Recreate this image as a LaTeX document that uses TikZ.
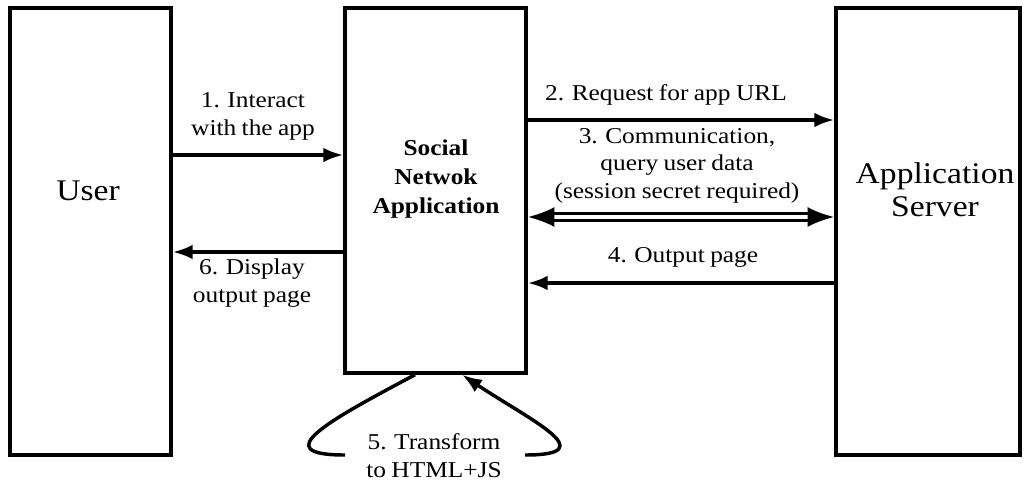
\documentclass[tikz,border=0pt]{standalone}
\usepackage{fontspec}
\setmainfont{Liberation Serif}[FakeStretch=1.12,WordSpace=0.85]
\usetikzlibrary{arrows.meta,positioning}
\tikzset{
  >={Latex[length=15pt,width=11pt]},
  blk/.style={draw,line width=2.6pt,inner sep=0pt},
  lab/.style={font=\fontsize{17}{20.5}\selectfont,align=center,anchor=base,inner sep=0pt},
  big/.style={lab,font=\fontsize{22.5}{24.75}\selectfont},
  arr/.style={->,line width=2.6pt},
  darr/.style={{Latex[length=20pt,width=15pt]}-{Latex[length=20pt,width=15pt]},line width=2.2pt,double,double distance=3.4pt},
}
\begin{document}
\begin{tikzpicture}[x=0.75pt,y=-0.75pt]
\useasboundingbox (0,0) rectangle (1025,483);
% the three parties
\node[blk,minimum width=120.75pt,minimum height=335.25pt] (user) at (90.5,231.5) {};
\node[blk,minimum width=135.75pt,minimum height=273.75pt] (sna) at (435.5,190.5) {};
\node[blk,minimum width=138pt,minimum height=335.25pt] (srv) at (928,231.5) {};
\node[big] (userT) at (88,200) {User};
\node[lab,font=\fontsize{17}{21.4}\selectfont\bfseries] (snaT) at (436,213) {Social\\Netwok\\Application};
\node[big] (srvT) at (935,216) {Application\\Server};
% message levels
\coordinate (y1) at (0,155);
\coordinate (y2) at (0,120);
\coordinate (y3) at (0,217);
\coordinate (y4) at (0,283);
\coordinate (y6) at (0,252);
\draw[arr] (user.east |- y1) -- (sna.west |- y1);
\draw[arr] (sna.east |- y2) -- (srv.west |- y2);
\draw[darr] (sna.east |- y3) -- (srv.west |- y3);
\draw[arr] (srv.west |- y4) -- (sna.east |- y4);
\draw[arr] (sna.west |- y6) -- (user.east |- y6);
\node[lab] (l1) at (253,135) {1. Interact\\with the app};
\node[lab] (l2) at (666,100) {2. Request for app URL};
\node[lab] (l3) at (677,198) {3. Communication,\\query user data\\(session secret required)};
\node[lab] (l4) at (683,262) {4. Output page};
\node[lab] (l6) at (252,302) {6. Display\\output page};
% transform loop
\coordinate (t5a) at (345,455);
\coordinate (t5b) at (525,455);
\draw[line width=2.6pt] ([xshift=-15.4pt]sna.south) .. controls (330,420) and (265,455) .. (t5a);
\draw[arr] (t5b) .. controls (605,455) and (530,420) .. ([xshift=19.9pt]sna.south);
\node[lab] (l5) at (434,477) {5. Transform\\to HTML+JS};
\end{tikzpicture}
\end{document}
